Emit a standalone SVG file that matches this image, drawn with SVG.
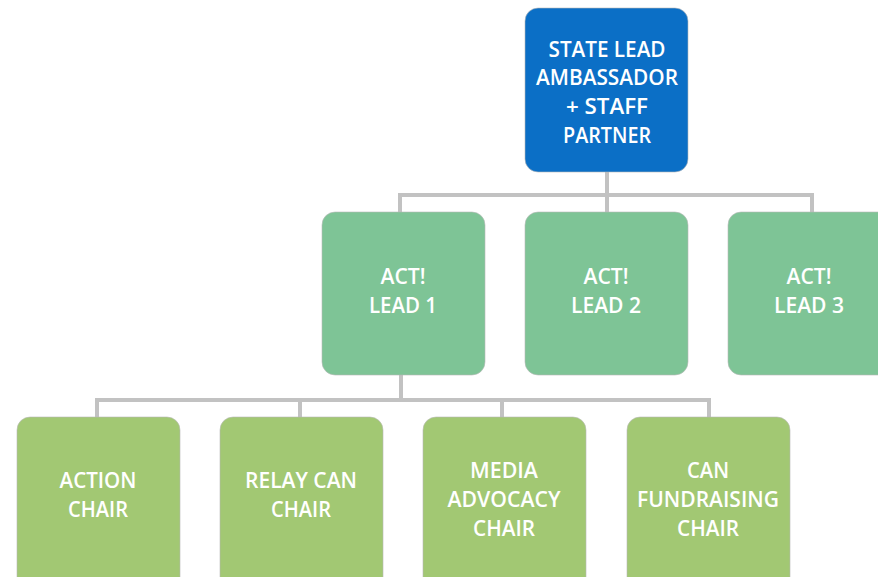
<svg xmlns="http://www.w3.org/2000/svg" width="878" height="577" viewBox="0 0 878 577">
  <style>
    .box { stroke: #b9b9b9; stroke-width: 1; stroke-opacity: 0.6; }
    .lead { fill: #0b6fc6; }
    .act { fill: #7ec496; }
    .chair { fill: #a2c873; }
    .lbl { font-family: "Open Sans", "Liberation Sans", sans-serif; font-weight: 600; font-size: 21px; fill: #ffffff; text-anchor: middle; }
    .wire { fill: none; stroke: #c2c2c2; stroke-width: 4; stroke-linejoin: miter; }
  </style>

  <rect width="878" height="577" fill="#ffffff"/>

  <g id="connectors">
    <!-- state lead to ACT! leads -->
    <path class="wire" d="M607 172 V212"/>
    <path class="wire" d="M400 212 V195 H812 V212"/>
    <!-- ACT! lead 1 to chairs -->
    <path class="wire" d="M401 375 V400"/>
    <path class="wire" d="M97 417 V400 H709 V417"/>
    <path class="wire" d="M300 400 V417"/>
    <path class="wire" d="M502 400 V417"/>
  </g>

  <g id="state-lead">
    <rect class="box lead" x="525" y="8" width="163" height="164" rx="13"/>
    <text class="lbl" x="607" y="57" textLength="117" lengthAdjust="spacingAndGlyphs">STATE LEAD</text>
    <text class="lbl" x="607" y="85" textLength="142" lengthAdjust="spacingAndGlyphs">AMBASSADOR</text>
    <text class="lbl" x="607" y="114" textLength="82" lengthAdjust="spacingAndGlyphs">+ STAFF</text>
    <text class="lbl" x="607" y="143" textLength="88" lengthAdjust="spacingAndGlyphs">PARTNER</text>
  </g>

  <g id="act-lead-1">
    <rect class="box act" x="322" y="212" width="163" height="163" rx="13"/>
    <text class="lbl" x="403" y="284" textLength="45" lengthAdjust="spacingAndGlyphs">ACT!</text>
    <text class="lbl" x="403" y="313" textLength="68" lengthAdjust="spacingAndGlyphs">LEAD 1</text>
  </g>

  <g id="act-lead-2">
    <rect class="box act" x="525" y="212" width="163" height="163" rx="13"/>
    <text class="lbl" x="606" y="284" textLength="45" lengthAdjust="spacingAndGlyphs">ACT!</text>
    <text class="lbl" x="606" y="313" textLength="70" lengthAdjust="spacingAndGlyphs">LEAD 2</text>
  </g>

  <g id="act-lead-3">
    <rect class="box act" x="728" y="212" width="163" height="163" rx="13"/>
    <text class="lbl" x="809" y="284" textLength="45" lengthAdjust="spacingAndGlyphs">ACT!</text>
    <text class="lbl" x="809" y="313" textLength="70" lengthAdjust="spacingAndGlyphs">LEAD 3</text>
  </g>

  <g id="action-chair">
    <rect class="box chair" x="17" y="417" width="163" height="175" rx="13"/>
    <text class="lbl" x="98" y="488" textLength="77" lengthAdjust="spacingAndGlyphs">ACTION</text>
    <text class="lbl" x="98" y="517" textLength="60" lengthAdjust="spacingAndGlyphs">CHAIR</text>
  </g>

  <g id="relay-can-chair">
    <rect class="box chair" x="220" y="417" width="163" height="175" rx="13"/>
    <text class="lbl" x="301" y="488" textLength="112" lengthAdjust="spacingAndGlyphs">RELAY CAN</text>
    <text class="lbl" x="301" y="517" textLength="60" lengthAdjust="spacingAndGlyphs">CHAIR</text>
  </g>

  <g id="media-advocacy-chair">
    <rect class="box chair" x="423" y="417" width="163" height="175" rx="13"/>
    <text class="lbl" x="504" y="478" textLength="68" lengthAdjust="spacingAndGlyphs">MEDIA</text>
    <text class="lbl" x="504" y="507" textLength="113" lengthAdjust="spacingAndGlyphs">ADVOCACY</text>
    <text class="lbl" x="504" y="536" textLength="62" lengthAdjust="spacingAndGlyphs">CHAIR</text>
  </g>

  <g id="can-fundraising-chair">
    <rect class="box chair" x="627" y="417" width="163" height="175" rx="13"/>
    <text class="lbl" x="708" y="478" textLength="42" lengthAdjust="spacingAndGlyphs">CAN</text>
    <text class="lbl" x="708" y="507" textLength="142" lengthAdjust="spacingAndGlyphs">FUNDRAISING</text>
    <text class="lbl" x="708" y="536" textLength="62" lengthAdjust="spacingAndGlyphs">CHAIR</text>
  </g>
</svg>
